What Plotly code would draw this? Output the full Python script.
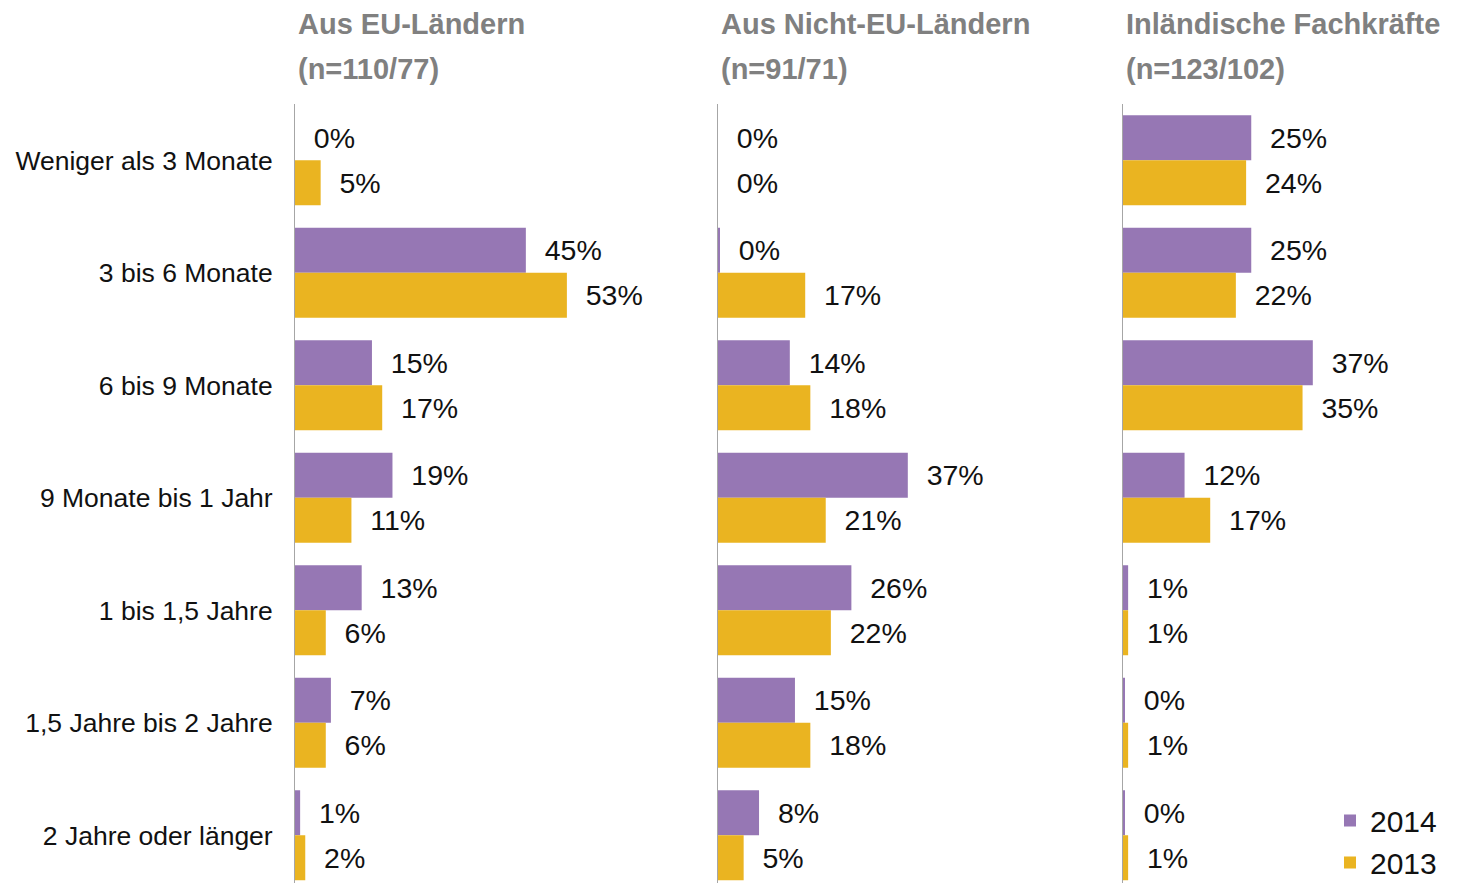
"""Dauer der Stellenbesetzung nach Herkunft der Fachkräfte, 2014 vs. 2013."""

import plotly.graph_objects as go

# Data
categories = [
    "Weniger als 3 Monate",
    "3 bis 6 Monate",
    "6 bis 9 Monate",
    "9 Monate bis 1 Jahr",
    "1 bis 1,5 Jahre",
    "1,5 Jahre bis 2 Jahre",
    "2 Jahre oder länger",
]
panel_titles = ["Aus EU-Ländern", "Aus Nicht-EU-Ländern", "Inländische Fachkräfte"]
panel_ns = ["(n=110/77)", "(n=91/71)", "(n=123/102)"]

eu_2014 = [0, 45, 15, 19, 13, 7, 1]
eu_2013 = [5, 53, 17, 11, 6, 6, 2]
non_eu_2014 = [0, 0.3, 14, 37, 26, 15, 8]
non_eu_2013 = [0, 17, 18, 21, 22, 18, 5]
inland_2014 = [25, 25, 37, 12, 1, 0.2, 0.2]
inland_2013 = [24, 22, 35, 17, 1, 1, 1]

series_2014 = [eu_2014, non_eu_2014, inland_2014]
series_2013 = [eu_2013, non_eu_2013, inland_2013]

_PURPLE = "#9677B4"
_GOLD = "#EAB421"
_GREY = "#808080"
_FONT = "Liberation Sans, Arial, sans-serif"

# page body has an 8px margin, so the figure is drawn that much smaller
OFF = 8
W, H = 1457 - 2 * OFF, 893 - 2 * OFF
TOP, BOTTOM = 104 - OFF, 2
PX_PER_PCT = 5.13
ROW_PX = 112.5
# panel left / right edges in page pixels
panels = [(295, 700), (718, 1110), (1123, 1449)]

# category axis: first row centred 56px below the plot top, rows 112.5px apart
plot_h = H - TOP - BOTTOM
y_range = [-0.5 + plot_h / ROW_PX, -0.5]

fig = go.Figure()

for i, (left, right) in enumerate(panels):
    ax = "" if i == 0 else str(i + 1)
    l, r = left - OFF, right - OFF
    for name, vals, color in (("2014", series_2014[i], _PURPLE), ("2013", series_2013[i], _GOLD)):
        fig.add_trace(
            go.Bar(
                x=vals,
                y=categories,
                orientation="h",
                name=name,
                legendgroup=name,
                showlegend=(i == 0),
                marker=dict(color=color, line=dict(width=0)),
                texttemplate="\u00a0\u00a0%{x:.0f}%",
                textposition="outside",
                textfont=dict(size=28.5, color="#111111", family=_FONT),
                constraintext="none",
                cliponaxis=False,
                hoverinfo="skip",
                xaxis="x" + ax,
                yaxis="y" + ax,
            )
        )

    fig.layout["xaxis" + ax] = dict(
        domain=[l / W, r / W],
        range=[0, (r - l) / PX_PER_PCT],
        visible=False,
        fixedrange=True,
    )
    fig.layout["yaxis" + ax] = dict(
        anchor="x" + ax,
        range=y_range,
        showline=True,
        linecolor="#A6A6A6",
        linewidth=1,
        ticks="",
        showgrid=False,
        zeroline=False,
        showticklabels=(i == 0),
        tickfont=dict(size=26.5, color="#111111", family=_FONT),
        ticklabelstandoff=16,
        fixedrange=True,
    )
    if i > 0:
        fig.layout["yaxis" + ax]["matches"] = "y"

    for j, txt in enumerate((panel_titles[i], panel_ns[i])):
        fig.add_annotation(
            text=f"<b>{txt}</b>",
            xref="paper",
            yref="paper",
            x=(l + 1) / W,
            y=1 + (TOP - (24 - OFF) - 45 * j) / plot_h,
            xanchor="left",
            yanchor="middle",
            showarrow=False,
            font=dict(size=29, color=_GREY, family=_FONT),
        )

fig.update_layout(
    width=W,
    height=H,
    barmode="group",
    bargap=0.2,
    bargroupgap=0,
    paper_bgcolor="white",
    plot_bgcolor="white",
    margin=dict(l=0, r=0, t=TOP, b=BOTTOM, autoexpand=False),
    font=dict(family=_FONT),
    legend=dict(
        x=(1330 - OFF) / W,
        y=-0.007,
        xanchor="left",
        yanchor="bottom",
        traceorder="normal",
        tracegroupgap=10,
        font=dict(size=30, color="#111111", family=_FONT),
        itemwidth=30,
        bgcolor="rgba(0,0,0,0)",
    ),
)

fig.write_html("out.html")
